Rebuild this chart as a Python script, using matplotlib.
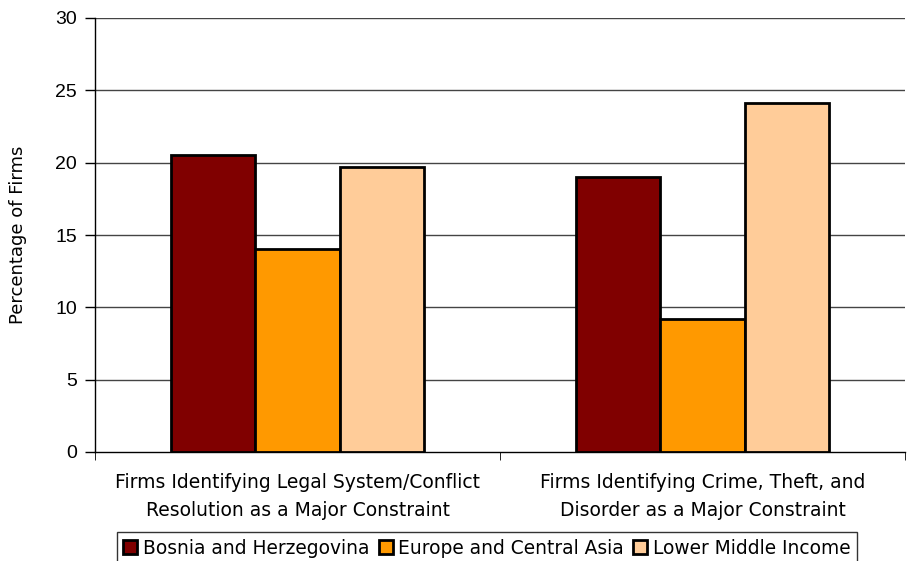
import matplotlib
matplotlib.use("Agg")
import matplotlib.pyplot as plt
import numpy as np

categories = [
    "Firms Identifying Legal System/Conflict\nResolution as a Major Constraint",
    "Firms Identifying Crime, Theft, and\nDisorder as a Major Constraint",
]
series_names = ["Bosnia and Herzegovina", "Europe and Central Asia", "Lower Middle Income"]
bosnia = [20.5, 19.0]
eca = [14.0, 9.2]
lmi = [19.7, 24.1]
colors = ["#800000", "#FF9900", "#FFCC99"]
y_ticks = [0, 5, 10, 15, 20, 25, 30]

fig = plt.figure(figsize=(9.11, 5.61), dpi=100)
ax = fig.add_axes([95 / 911, 1 - 452 / 561, 810 / 911, 434 / 561])

x = np.arange(len(categories))
width = 0.208
for i, (vals, name, col) in enumerate(zip([bosnia, eca, lmi], series_names, colors)):
    ax.bar(x + (i - 1) * width, vals, width, color=col, edgecolor="black",
           linewidth=2, label=name, zorder=3)

ax.set_xlim(-0.5, len(categories) - 0.5)
ax.set_ylim(0, 30)
ax.set_yticks(y_ticks)
ax.set_yticklabels([str(t) for t in y_ticks], fontfamily="Liberation Sans", fontsize=14)
for t in y_ticks[1:]:
    ax.axhline(t, color="#444444", linewidth=1, zorder=1)

ax.set_xticks(x)
ax.set_xticklabels(categories, fontfamily="DejaVu Sans", fontsize=13.5, linespacing=1.6)
ax.tick_params(axis="x", length=0, pad=15)
ax.set_xticks([-0.5, 0.5, 1.5], minor=True)
ax.tick_params(axis="x", which="minor", length=6, color="black", direction="out")
ax.tick_params(axis="y", length=7, width=1, color="black", direction="out", pad=6)

ax.set_ylabel("Percentage of Firms", fontfamily="DejaVu Sans", fontsize=13, labelpad=20)

for side in ["top", "right"]:
    ax.spines[side].set_visible(False)
for side in ["left", "bottom"]:
    ax.spines[side].set_color("black")
    ax.spines[side].set_linewidth(1)

leg = fig.legend(loc="upper center", bbox_to_anchor=(487 / 911, 1 - 532 / 561), ncol=3,
                 frameon=True, fancybox=False, edgecolor="black",
                 prop={"family": "DejaVu Sans", "size": 13.4},
                 handlelength=0.75, handleheight=0.75, handletextpad=0.3,
                 columnspacing=0.5, borderpad=0.35, borderaxespad=0)
leg.get_frame().set_linewidth(1)

fig.savefig("out.png", dpi=100)
